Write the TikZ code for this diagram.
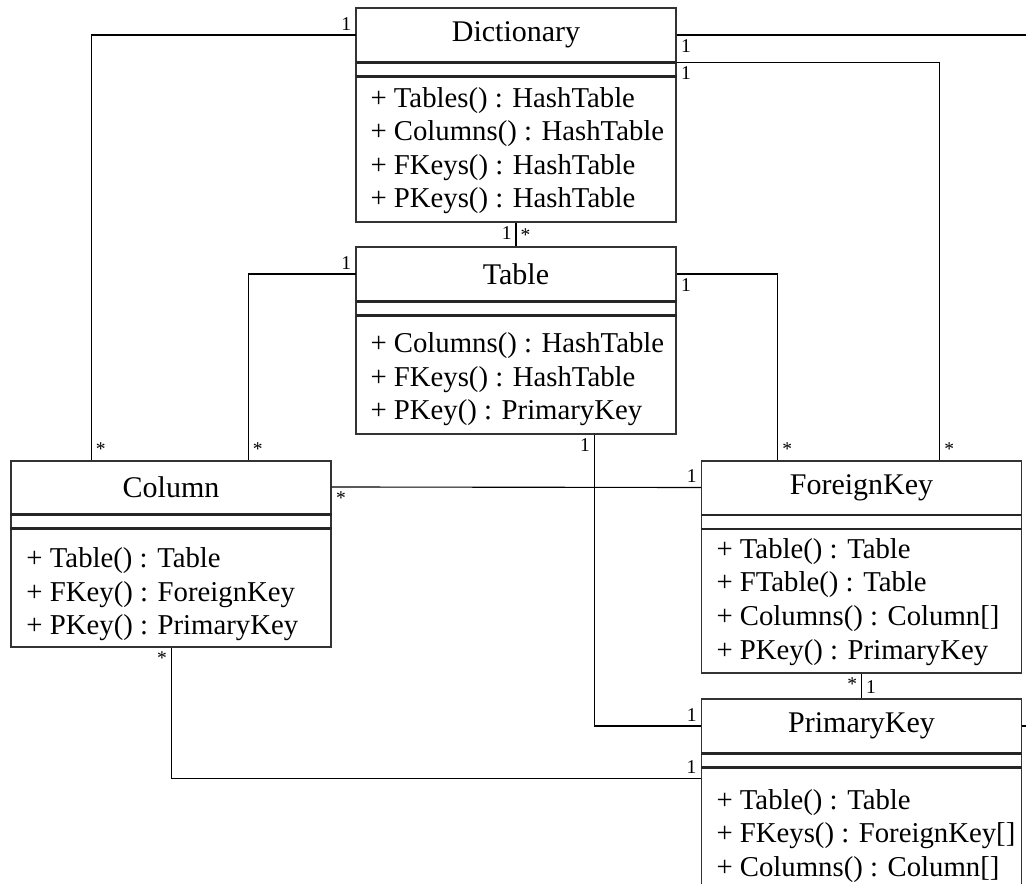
\documentclass[tikz,border=0pt]{standalone}
\usepackage{fontspec}
\setmainfont{Liberation Serif}
\usetikzlibrary{calc}
\begin{document}
\begin{tikzpicture}[x=0.4pt,y=-0.4pt,
  classbox/.style={draw=black!80, line width=0.5pt, minimum width=128pt, inner sep=0pt},
  classtitle/.style={minimum width=128pt, minimum height=21.6pt, inner sep=0pt,
    font=\fontsize{12}{13}\selectfont},
  % anchored at the baseline of the last operation
  methods/.style={anchor=base west, align=left, inner sep=0pt,
    font=\fontsize{11.5}{13.4}\selectfont},
  comp/.style={black!85, line width=0.9pt},
  conn/.style={black, line width=0.45pt},
  mult/.style={font=\fontsize{7.8}{8}\selectfont, inner sep=1.6pt},
]
\clip (0,0) rectangle (1026,884);

% ---- classes ----
\node[classbox, minimum height=85.6pt] (dict) at (516,115) {};
\node[classtitle] (dictT) at (516,35) {Dictionary};
\node[methods] (dictM) at (370,208)
  {+ Tables() : HashTable\\+ Columns() : HashTable\\+ FKeys() : HashTable\\+ PKeys() : HashTable};

\node[classbox, minimum height=74.8pt] (tab) at (516,340.5) {};
\node[classtitle] (tabT) at (516,274) {Table};
\node[methods] (tabM) at (370,420)
  {+ Columns() : HashTable\\+ FKeys() : HashTable\\+ PKey() : PrimaryKey};

\node[classbox, minimum height=74.4pt] (col) at (171,554) {};
\node[classtitle] (colT) at (171,487) {Column};
\node[methods] (colM) at (26,635)
  {+ Table() : Table\\+ FKey() : ForeignKey\\+ PKey() : PrimaryKey};

\node[classbox, minimum height=84.8pt] (fk) at (861.5,567) {};
\node[classtitle] (fkT) at (861.5,487.5) {ForeignKey};
\node[methods] (fkM) at (716,659)
  {+ Table() : Table\\+ FTable() : Table\\+ Columns() : Column[]\\+ PKey() : PrimaryKey};

\node[classbox, minimum height=76pt] (pk) at (861.5,794) {};
\node[classtitle] (pkT) at (861.5,726) {PrimaryKey};
\node[methods] (pkM) at (716,876)
  {+ Table() : Table\\+ FKeys() : ForeignKey[]\\+ Columns() : Column[]};

% ---- compartment separators ----
\foreach \c in {dictT,tabT,colT,fkT,pkT}{
  \draw[comp] (\c.south west) -- (\c.south east);
  \draw[comp] ($(\c.south west)+(0,14)$) -- ($(\c.south east)+(0,14)$);
}

% ---- associations ----
\draw[conn] (dictT.west) -| ($(col.north west)+(81,0)$) coordinate (a1);
\node[mult, anchor=south east] (m1a) at (dictT.west) {1};
\node[mult, anchor=south west] (m1b) at (a1) {*};

\draw[conn] (tabT.west) -| ($(col.north west)+(238,0)$) coordinate (a2);
\node[mult, anchor=south east] (m2a) at (tabT.west) {1};
\node[mult, anchor=south west] (m2b) at (a2) {*};

\draw[conn] (dictT.south east) -| ($(fk.north west)+(239,0)$) coordinate (a3);
\node[mult, anchor=north west] (m3a) at (dictT.south east) {1};
\node[mult, anchor=south west] (m3b) at (a3) {*};

\draw[conn] (tabT.east) -| ($(fk.north west)+(77,0)$) coordinate (a4);
\node[mult, anchor=north west] (m4a) at (tabT.east) {1};
\node[mult, anchor=south west] (m4b) at (a4) {*};

\draw[conn] (dict.south) -- (tab.north);
\node[mult, anchor=north east] (m5a) at (dict.south) {1};
\node[mult, anchor=south west] (m5b) at (tab.north) {*};

\draw[conn] ($(tab.south west)+(239,0)$) coordinate (a6) |- (pkT.west);
\node[mult, anchor=north east] (m6a) at (a6) {1};
\node[mult, anchor=south east] (m6b) at (pkT.west) {1};

\draw[conn] (colT.east) -- (fkT.west);
\node[mult, anchor=north west] (m7a) at (colT.east) {*};
\node[mult, anchor=south east] (m7b) at (fkT.west) {1};

\draw[conn] ($(col.south west)+(161,0)$) coordinate (a8) |- ($(pk.north west)+(0,80)$) coordinate (b8);
\node[mult, anchor=north east] (m8a) at (a8) {*};
\node[mult, anchor=south east] (m8b) at (b8) {1};

\draw[conn] (fk.south) -- (pk.north);
\node[mult, anchor=north east] (m9a) at (fk.south) {*};
\node[mult, anchor=south west] (m9b) at (pk.north) {1};

\draw[conn] (dictT.east) -| ($(pkT.east)+(40,0)$) -- (pkT.east);
\node[mult, anchor=north west] (m10a) at (dictT.east) {1};
\end{tikzpicture}
\end{document}
